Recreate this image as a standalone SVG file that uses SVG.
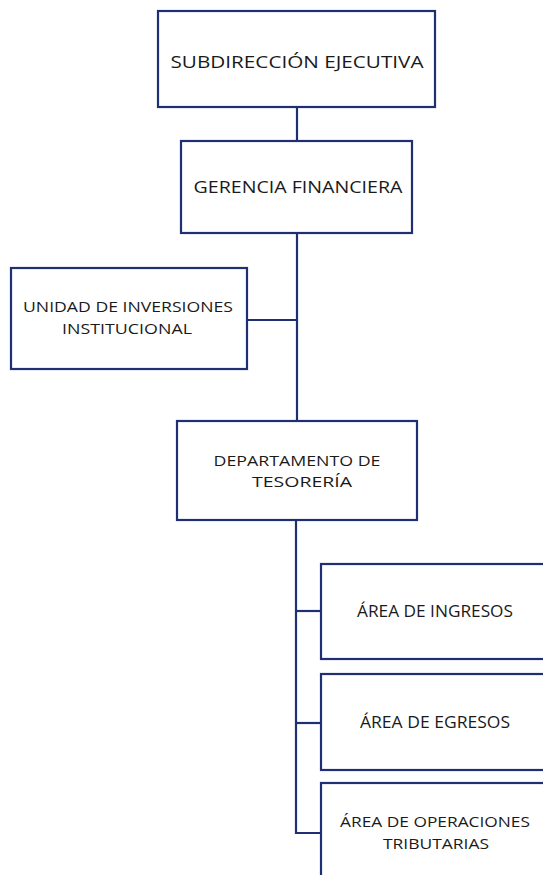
<svg xmlns="http://www.w3.org/2000/svg" width="543" height="875" viewBox="0 0 543 875">
<style>
.box{fill:#ffffff;stroke:#1f2f73;stroke-width:2.2}
.ln{fill:none;stroke:#1f2f73;stroke-width:2.2}
text{font-family:"Open Sans","Liberation Sans",sans-serif;font-size:16.5px;fill:#1a1a1a;text-anchor:middle}
.two{font-size:15px}
</style>
<rect width="543" height="875" fill="#ffffff"/>
<g id="connectors">
<line class="ln" x1="297" y1="107" x2="297" y2="141"/>
<line class="ln" x1="297" y1="233" x2="297" y2="421"/>
<line class="ln" x1="247" y1="320" x2="297" y2="320"/>
<polyline class="ln" points="296,520 296,833 321,833"/>
<line class="ln" x1="296" y1="611" x2="321" y2="611"/>
<line class="ln" x1="296" y1="723" x2="321" y2="723"/>
</g>
<g id="n1"><rect class="box" x="158" y="11" width="277" height="96"/>
<text x="297" y="68" textLength="253" lengthAdjust="spacingAndGlyphs">SUBDIRECCIÓN EJECUTIVA</text></g>
<g id="n2"><rect class="box" x="181" y="141" width="231" height="92"/>
<text x="298" y="193" textLength="209" lengthAdjust="spacingAndGlyphs">GERENCIA FINANCIERA</text></g>
<g id="n3"><rect class="box" x="11" y="268" width="236" height="101"/>
<text class="two" x="128" y="312" textLength="210" lengthAdjust="spacingAndGlyphs">UNIDAD DE INVERSIONES</text>
<text class="two" x="127" y="334" textLength="130" lengthAdjust="spacingAndGlyphs">INSTITUCIONAL</text></g>
<g id="n4"><rect class="box" x="177" y="421" width="240" height="99"/>
<text class="two" x="297" y="466" textLength="167" lengthAdjust="spacingAndGlyphs">DEPARTAMENTO DE</text>
<text class="two" x="302" y="487" textLength="100" lengthAdjust="spacingAndGlyphs">TESORERÍA</text></g>
<g id="n5"><rect class="box" x="321" y="564" width="240" height="95"/>
<text x="435" y="617" textLength="156" lengthAdjust="spacingAndGlyphs">ÁREA DE INGRESOS</text></g>
<g id="n6"><rect class="box" x="321" y="674" width="240" height="96"/>
<text x="435" y="728" textLength="150" lengthAdjust="spacingAndGlyphs">ÁREA DE EGRESOS</text></g>
<g id="n7"><rect class="box" x="321" y="783" width="240" height="110"/>
<text class="two" x="435" y="827" textLength="190" lengthAdjust="spacingAndGlyphs">ÁREA DE OPERACIONES</text>
<text class="two" x="436" y="849" textLength="106" lengthAdjust="spacingAndGlyphs">TRIBUTARIAS</text></g>
</svg>
